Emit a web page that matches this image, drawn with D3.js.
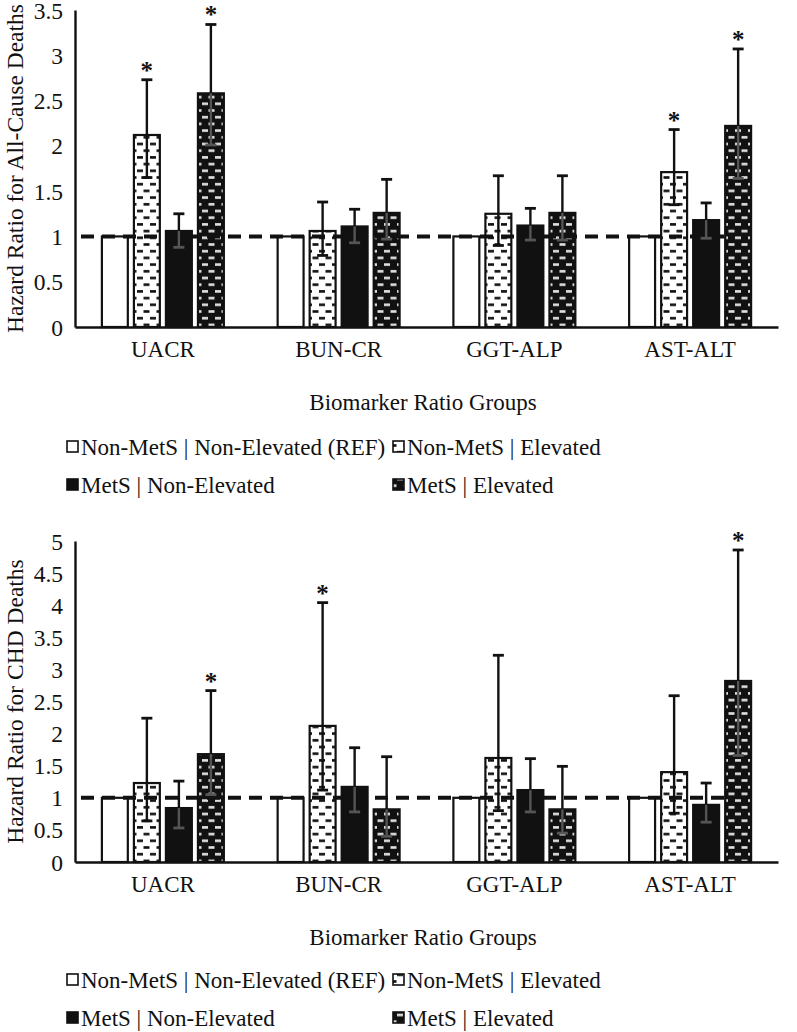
<!DOCTYPE html>
<html><head><meta charset="utf-8">
<script src="https://cdn.jsdelivr.net/npm/d3@7"></script>
<style>
body{margin:0;background:#fff}
text{font-family:"Liberation Serif","Times New Roman",serif;fill:#111}
</style>
</head><body>
<svg id="c" width="797" height="1032"></svg>
<script>
// ---------- DATA ----------
const categories = ["UACR", "BUN-CR", "GGT-ALP", "AST-ALT"];
const seriesNames = ["Non-MetS | Non-Elevated (REF)", "Non-MetS | Elevated", "MetS | Non-Elevated", "MetS | Elevated"];

// All-cause deaths: hazard ratios and 95% CI
const acRef = [1, 1, 1, 1];
const acNonMetsElev = [2.12, 1.06, 1.25, 1.71];
const acNonMetsElevLo = [1.65, 0.79, 0.90, 1.35];
const acNonMetsElevHi = [2.73, 1.38, 1.67, 2.18];
const acMetsNonElev = [1.06, 1.11, 1.12, 1.18];
const acMetsNonElevLo = [0.88, 0.93, 0.96, 0.98];
const acMetsNonElevHi = [1.25, 1.30, 1.31, 1.37];
const acMetsElev = [2.58, 1.26, 1.26, 2.22];
const acMetsElevLo = [2.01, 0.97, 0.96, 1.64];
const acMetsElevHi = [3.34, 1.63, 1.67, 3.07];
const acStarNonMetsElev = [true, false, false, true];
const acStarMetsElev = [true, false, false, true];
const acTicks = [0, 0.5, 1, 1.5, 2, 2.5, 3, 3.5];

// CHD deaths
const chdRef = [1, 1, 1, 1];
const chdNonMetsElev = [1.23, 2.12, 1.62, 1.40];
const chdNonMetsElevLo = [0.64, 1.12, 0.80, 0.76];
const chdNonMetsElevHi = [2.24, 4.04, 3.22, 2.59];
const chdMetsNonElev = [0.84, 1.17, 1.12, 0.89];
const chdMetsNonElevLo = [0.53, 0.78, 0.78, 0.62];
const chdMetsNonElevHi = [1.26, 1.78, 1.61, 1.23];
const chdMetsElev = [1.68, 0.82, 0.82, 2.82];
const chdMetsElevLo = [1.05, 0.40, 0.45, 1.66];
const chdMetsElevHi = [2.67, 1.64, 1.49, 4.86];
const chdStarNonMetsElev = [false, true, false, false];
const chdStarMetsElev = [true, false, false, true];
const chdTicks = [0, 0.5, 1, 1.5, 2, 2.5, 3, 3.5, 4, 4.5, 5];

const refLine = 1;

// ---------- DRAW ----------
const svg = d3.select("#c");
svg.append("rect").attr("width", 797).attr("height", 1032).attr("fill", "#fff");

const FS = 23;
const defs = svg.append("defs");
function makePattern(id, bg, fg) {
  const p = defs.append("pattern").attr("id", id).attr("patternUnits", "userSpaceOnUse")
    .attr("width", 13).attr("height", 13.4);
  p.append("rect").attr("width", 13).attr("height", 13.4).attr("fill", bg);
  p.append("rect").attr("x", 0.5).attr("y", 2).attr("width", 6).attr("height", 2.6).attr("fill", fg);
  p.append("rect").attr("x", 7).attr("y", 8.7).attr("width", 6).attr("height", 2.6).attr("fill", fg);
}
makePattern("patW", "#fff", "#111");
makePattern("patB", "#111", "#e0e0e0");

const fills = ["#fff", "url(#patW)", "#111", "url(#patB)"];
const darkBar = [false, false, true, true];

const panels = [
  { yTitle: "Hazard Ratio for All-Cause Deaths", ticks: acTicks, yMax: 3.5, top: 10, bottom: 327,
    values: [acRef, acNonMetsElev, acMetsNonElev, acMetsElev],
    lo: [null, acNonMetsElevLo, acMetsNonElevLo, acMetsElevLo],
    hi: [null, acNonMetsElevHi, acMetsNonElevHi, acMetsElevHi],
    stars: [null, acStarNonMetsElev, null, acStarMetsElev], legendY: 447 },
  { yTitle: "Hazard Ratio for CHD Deaths", ticks: chdTicks, yMax: 5, top: 541, bottom: 862,
    values: [chdRef, chdNonMetsElev, chdMetsNonElev, chdMetsElev],
    lo: [null, chdNonMetsElevLo, chdMetsNonElevLo, chdMetsElevLo],
    hi: [null, chdNonMetsElevHi, chdMetsNonElevHi, chdMetsElevHi],
    stars: [null, chdStarNonMetsElev, null, chdStarMetsElev], legendY: 980 }
];

const xLeft = 75, xRight = 778;
const x0 = d3.scaleBand().domain(categories).range([xLeft, xRight]).paddingInner(0).paddingOuter(0);
const x1 = d3.scaleBand().domain(d3.range(4)).range([0, x0.bandwidth()]).paddingInner(0.19).paddingOuter(0.84);

panels.forEach(P => {
  const g = svg.append("g");
  const y = d3.scaleLinear().domain([0, P.yMax]).range([P.bottom, P.top]);

  // y axis
  const yAx = g.append("g").attr("transform", `translate(${xLeft},0)`)
    .call(d3.axisLeft(y).tickValues(P.ticks).tickFormat(d3.format("")).tickSize(0).tickPadding(12));
  yAx.select(".domain").attr("stroke", "#111").attr("stroke-width", 2.4);
  yAx.selectAll("text").attr("font-size", FS + 0.5).attr("dy", "0.34em");

  // bars
  P.values.forEach((vals, si) => {
    g.selectAll(null).data(categories).enter().append("rect")
      .attr("x", c => x0(c) + x1(si))
      .attr("width", x1.bandwidth())
      .attr("y", (c, i) => y(vals[i]))
      .attr("height", (c, i) => y(0) - y(vals[i]))
      .attr("fill", fills[si])
      .attr("stroke", "#111").attr("stroke-width", 2.2);
  });

  // reference dashed line
  g.append("line").attr("x1", xLeft + 6).attr("x2", 733)
    .attr("y1", y(refLine)).attr("y2", y(refLine))
    .attr("stroke", "#111").attr("stroke-width", 4).attr("stroke-dasharray", "13,8");

  // error bars
  P.values.forEach((vals, si) => {
    if (!P.lo[si]) return;
    categories.forEach((c, i) => {
      const cx = x0(c) + x1(si) + x1.bandwidth() / 2;
      const yl = y(P.lo[si][i]), yh = y(P.hi[si][i]), yb = y(vals[i]);
      const inner = darkBar[si] ? "#555" : "#111";
      g.append("line").attr("x1", cx).attr("x2", cx).attr("y1", yb).attr("y2", yh)
        .attr("stroke", "#111").attr("stroke-width", 2.4);
      g.append("line").attr("x1", cx).attr("x2", cx).attr("y1", yl).attr("y2", yb)
        .attr("stroke", inner).attr("stroke-width", 2.4);
      g.append("line").attr("x1", cx - 5.5).attr("x2", cx + 5.5)
        .attr("y1", yh).attr("y2", yh).attr("stroke", "#111").attr("stroke-width", 2.8);
      g.append("line").attr("x1", cx - 5.5).attr("x2", cx + 5.5)
        .attr("y1", yl).attr("y2", yl).attr("stroke", yl > yb ? inner : "#111").attr("stroke-width", 2.8);
      if (P.stars[si] && P.stars[si][i]) {
        g.append("text").attr("x", cx).attr("y", yh - 1).attr("text-anchor", "middle")
          .attr("font-size", 25).attr("font-weight", "bold").text("*");
      }
    });
  });

  // x axis
  const xAx = g.append("g").attr("transform", `translate(0,${P.bottom})`)
    .call(d3.axisBottom(x0).tickSize(0).tickPadding(14));
  xAx.select(".domain").attr("stroke", "#111").attr("stroke-width", 2.4);
  xAx.selectAll("text").attr("font-size", FS).attr("dy", "0.71em");

  // axis titles
  g.append("text").attr("transform", `translate(23,${(P.top + P.bottom) / 2}) rotate(-90)`)
    .attr("text-anchor", "middle").attr("font-size", FS + 0.5).text(P.yTitle);
  g.append("text").attr("x", 423).attr("y", P.bottom + 83).attr("text-anchor", "middle")
    .attr("font-size", FS).text("Biomarker Ratio Groups");

  // legend
  const lg = g.append("g");
  const colX = [67, 393];
  seriesNames.forEach((name, si) => {
    const cx = colX[si % 2], cy = P.legendY + Math.floor(si / 2) * 38;
    lg.append("rect").attr("x", cx).attr("y", cy - 6).attr("width", 11).attr("height", 11)
      .attr("fill", fills[si]).attr("stroke", "#111").attr("stroke-width", 1.6);
    lg.append("text").attr("x", cx + 14).attr("y", cy).attr("dy", "0.35em")
      .attr("font-size", FS).text(name);
  });
});
</script>
</body></html>
